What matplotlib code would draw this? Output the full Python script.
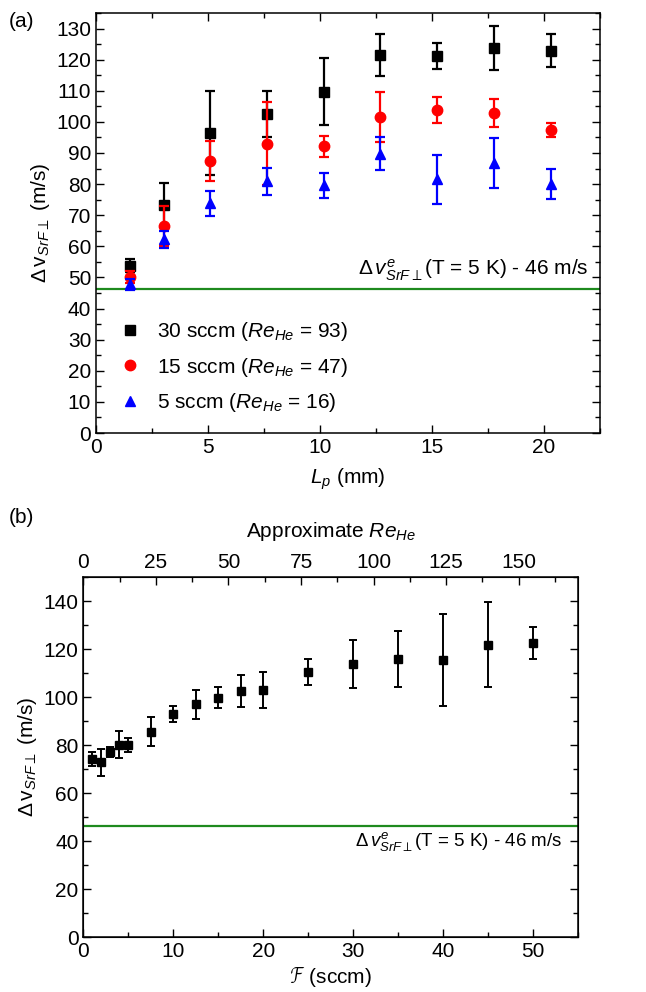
import matplotlib
matplotlib.use("Agg")
import matplotlib.pyplot as plt
from matplotlib.ticker import MultipleLocator

plt.rcParams['font.family'] = ['Liberation Sans', 'DejaVu Sans']
plt.rcParams['mathtext.fontset'] = 'custom'
plt.rcParams['mathtext.rm'] = 'Liberation Sans'
plt.rcParams['mathtext.it'] = 'Liberation Sans:italic'
plt.rcParams['mathtext.bf'] = 'Liberation Sans:bold'
plt.rcParams['font.size'] = 15

# (a) velocity spread vs. probe distance
Lp = [1.52, 3.05, 5.08, 7.62, 10.16, 12.70, 15.24, 17.78, 20.32]
v30 = [53.8, 73.2, 96.5, 102.5, 109.7, 121.6, 121.2, 123.8, 122.9]
e30 = [2.0, 7.0, 13.5, 7.3, 10.8, 6.8, 4.3, 7.0, 5.2]
v15 = [50.2, 66.5, 87.3, 93.0, 92.1, 101.5, 103.8, 102.9, 97.5]
e15 = [2.0, 6.4, 6.4, 13.4, 3.5, 8.0, 4.3, 4.6, 2.2]
v5 = [47.8, 62.2, 73.9, 80.9, 79.6, 89.8, 81.5, 86.8, 80.0]
e5 = [1.8, 2.7, 4.0, 4.3, 4.0, 5.3, 8.0, 8.0, 4.7]
labels_a = [r'30 sccm ($Re_{He}$ = 93)', r'15 sccm ($Re_{He}$ = 47)', r'5 sccm ($Re_{He}$ = 16)']

# (b) velocity spread vs. flow
flow = [1, 2, 3, 4, 5, 7.5, 10, 12.5, 15, 17.5, 20, 25, 30, 35, 40, 45, 50]
vflow = [74.3, 72.9, 77.0, 80.1, 80.0, 85.6, 92.9, 96.9, 99.7, 102.5, 102.9, 110.4, 113.9, 115.8, 115.4, 121.8, 122.5]
eflow = [2.9, 5.6, 2.1, 5.7, 3.0, 6.1, 3.2, 5.9, 4.4, 6.6, 7.5, 5.4, 10.0, 11.8, 19.3, 17.7, 6.5]
re_per_sccm = 3.1

v_thermal = 46.2
ylab = r'$\Delta\,\mathrm{v}_{SrF\perp}$ (m/s)'
thermal_txt = r'$\Delta\,v^{e}_{SrF\perp}$(T = 5 K) - 46 m/s'


def style(ax):
    ax.tick_params(which='both', direction='in', top=True, right=True, width=1)
    ax.tick_params(which='major', length=6)
    ax.tick_params(which='minor', length=3.5)
    for s in ax.spines.values():
        s.set_linewidth(1.1)


fig = plt.figure(figsize=(6.46, 9.92), dpi=100)

# ---- panel (a)
ax1 = fig.add_axes([0.1486, 0.5635, 0.780, 0.4234])
ax1.axhline(v_thermal, color='#1e8a1e', lw=1.6)
series = [(v30, e30, 'black', 's', 7), (v15, e15, 'red', 'o', 7.5), (v5, e5, 'blue', '^', 7.5)]
for (v, e, c, m, ms), lab in zip(series, labels_a):
    ax1.errorbar(Lp, v, yerr=e, fmt='none', ecolor=c, elinewidth=1.6, capsize=3.8, capthick=1.6)
    ax1.plot(Lp, v, ls='none', marker=m, color=c, ms=ms, label=lab)
ax1.set_xlim(0, 22.5)
ax1.set_ylim(0, 135)
ax1.xaxis.set_major_locator(MultipleLocator(5))
ax1.xaxis.set_minor_locator(MultipleLocator(2.5))
ax1.yaxis.set_major_locator(MultipleLocator(10))
ax1.yaxis.set_minor_locator(MultipleLocator(5))
style(ax1)
ax1.set_xlabel(r'$L_p$ (mm)', labelpad=7)
ax1.set_ylabel(ylab, labelpad=3)
ax1.text(0.977, 0.357, thermal_txt, transform=ax1.transAxes, ha='right', va='bottom')
ax1.legend(loc='lower left', bbox_to_anchor=(0.01, 0.0), frameon=False,
           handlelength=1.0, handletextpad=0.8, labelspacing=0.6)
fig.text(0.014, 0.978, '(a)', ha='left', va='center')

# ---- panel (b)
ax2 = fig.add_axes([0.129, 0.0554, 0.766, 0.3629])
ax2.axhline(v_thermal, color='#1e8a1e', lw=1.6)
ax2.errorbar(flow, vflow, yerr=eflow, fmt='s', color='black', ms=6, elinewidth=1.4,
             capsize=3, capthick=1.4)
ax2.set_xlim(0, 55)
ax2.set_ylim(0, 150)
ax2.xaxis.set_major_locator(MultipleLocator(10))
ax2.xaxis.set_minor_locator(MultipleLocator(5))
ax2.yaxis.set_major_locator(MultipleLocator(20))
ax2.yaxis.set_minor_locator(MultipleLocator(10))
style(ax2)
ax2.tick_params(which='both', top=False)
ax2.set_xlabel(r'$\mathcal{F}$ (sccm)', labelpad=3)
ax2.set_ylabel(ylab, labelpad=3)
ax2.text(0.55, 0.298, thermal_txt, transform=ax2.transAxes, ha='left', va='top', fontsize=13.5)

# top axis: approximate Reynolds number
top = ax2.twiny()
top.set_xlim(0, 55 * re_per_sccm)
top.xaxis.set_major_locator(MultipleLocator(25))
top.xaxis.set_minor_locator(MultipleLocator(12.5))
top.tick_params(which='both', direction='in', width=1)
top.tick_params(which='major', length=6)
top.tick_params(which='minor', length=3.5)
top.set_xlabel(r'Approximate $Re_{He}$', labelpad=12)
fig.text(0.014, 0.478, '(b)', ha='left', va='center')

fig.savefig('out.png', dpi=100)
